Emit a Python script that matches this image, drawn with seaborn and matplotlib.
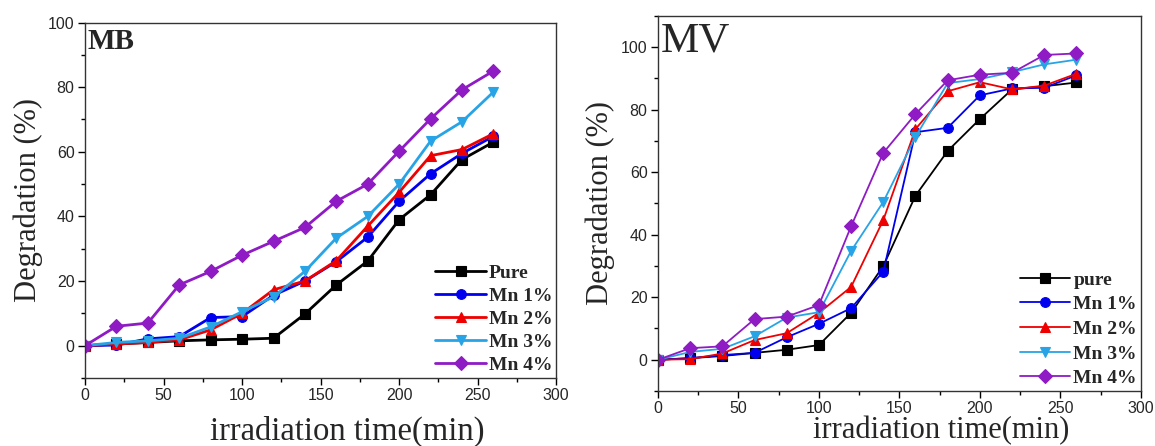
import numpy as np
import pandas as pd
import matplotlib
matplotlib.use("Agg")
import matplotlib.pyplot as plt
import seaborn as sns

sns.set_theme(style="ticks")
plt.rcParams['font.family'] = ['Liberation Sans', 'DejaVu Sans']

# tiempos de irradiacion (min)
tiempo = [0, 20, 40, 60, 80, 100, 120, 140, 160, 180, 200, 220, 240, 260]

# Degradacion MB (%)
mb_pure = [0, 0.5, 1.0, 1.5, 1.8, 2.0, 2.3, 9.8, 18.8, 26.2, 39.0, 46.7, 57.6, 63.0]
mb_mn1 = [0, 0.2, 2.1, 2.8, 8.7, 9.0, 15.6, 20.0, 26.0, 33.6, 44.7, 53.2, 59.5, 64.8]
mb_mn2 = [0, 0.5, 1.0, 1.8, 4.9, 10.0, 17.3, 20.0, 26.3, 37.0, 47.5, 58.8, 60.7, 65.6]
mb_mn3 = [0, 1.0, 1.5, 2.3, 5.8, 10.5, 15.1, 23.0, 33.3, 40.0, 50.0, 63.3, 69.3, 78.5]
mb_mn4 = [0, 6.0, 7.0, 18.8, 23.0, 28.0, 32.3, 36.6, 44.7, 50.0, 60.2, 70.2, 79.2, 85.0]

# Degradacion MV (%)
mv_pure = [0, 0.5, 1.2, 2.2, 3.2, 4.7, 15.0, 30.0, 52.5, 66.8, 77.0, 86.5, 87.5, 88.7]
mv_mn1 = [0, 0.5, 1.5, 2.2, 7.2, 11.5, 16.5, 28.2, 72.8, 74.2, 84.6, 86.8, 87.0, 91.0]
mv_mn2 = [0, 0.2, 2.0, 6.3, 8.5, 15.0, 23.3, 44.7, 73.8, 85.9, 88.8, 86.5, 87.7, 91.5]
mv_mn3 = [0, 2.5, 3.5, 7.5, 13.5, 15.2, 34.8, 50.5, 71.3, 88.5, 89.8, 92.0, 94.5, 96.0]
mv_mn4 = [0, 3.7, 4.3, 13.0, 13.8, 17.5, 42.7, 66.2, 78.6, 89.4, 91.2, 91.8, 97.5, 98.0]

etiquetas_mb = ['Pure', 'Mn 1%', 'Mn 2%', 'Mn 3%', 'Mn 4%']
etiquetas_mv = ['pure', 'Mn 1%', 'Mn 2%', 'Mn 3%', 'Mn 4%']

colores = ['#000000', '#0000EE', '#EE0000', '#28A4E6', '#8E1BC4']
marcadores = ['s', 'o', '^', 'v', 'D']


def tabla_larga(series, etiquetas):
    filas = []
    for nombre, valores in zip(etiquetas, series):
        for t, v in zip(tiempo, valores):
            filas.append({'tiempo': t, 'degradacion': v, 'muestra': nombre})
    return pd.DataFrame(filas)


def dibujar_panel(ax, df, etiquetas, lw, ms, ylim, titulo, titulo_kw, espacio, tam_x):
    sns.lineplot(data=df, x='tiempo', y='degradacion', hue='muestra', style='muestra',
                 hue_order=etiquetas, style_order=etiquetas,
                 palette=dict(zip(etiquetas, colores)),
                 markers=dict(zip(etiquetas, marcadores)), dashes=False,
                 linewidth=lw, markersize=ms, ax=ax)
    for linea in ax.lines:
        linea.set_markeredgecolor(linea.get_color())
        linea.set_markeredgewidth(0.8)

    ax.set_xlim(0, 300)
    ax.set_ylim(*ylim)
    ax.set_xticks([0, 50, 100, 150, 200, 250, 300])
    ax.set_xticks(np.arange(25, 300, 50), minor=True)
    ax.tick_params(which='both', direction='out', top=False, right=False,
                   labelsize=11.5, width=1.0, color='black', pad=2.5)
    ax.tick_params(which='major', length=5)
    ax.tick_params(which='minor', length=3)
    for lado in ax.spines.values():
        lado.set_color('#333333')
        lado.set_linewidth(1.0)

    ax.set_xlabel('irradiation time(min)', family=['Liberation Serif'], fontsize=tam_x)
    ax.set_ylabel('Degradation (%)', family=['Liberation Serif'], fontsize=22)

    ax.text(0.005, 0.985, titulo, transform=ax.transAxes, ha='left', va='top',
            family=['Liberation Serif'], **titulo_kw)

    handles, labels = ax.get_legend_handles_labels()
    for h in handles:
        h.set_markeredgecolor(h.get_color())
    ax.legend(handles, labels, loc='lower right', frameon=False,
              prop={'family': 'Liberation Serif', 'weight': 'bold', 'size': 14},
              handlelength=2.6, handletextpad=0.15, labelspacing=espacio,
              borderaxespad=0.05, borderpad=0.15)


fig = plt.figure(figsize=(11.55, 4.46), dpi=100)
ax1 = fig.add_axes([0.0736, 0.1525, 0.408, 0.797])
ax2 = fig.add_axes([0.5697, 0.1233, 0.418, 0.841])

df_mb = tabla_larga([mb_pure, mb_mn1, mb_mn2, mb_mn3, mb_mn4], etiquetas_mb)
df_mv = tabla_larga([mv_pure, mv_mn1, mv_mn2, mv_mn3, mv_mn4], etiquetas_mv)

dibujar_panel(ax1, df_mb, etiquetas_mb, 2.0, 7, (-10, 100), 'MB',
              {'fontsize': 21, 'fontweight': 'bold'}, 0.28, 23.5)
dibujar_panel(ax2, df_mv, etiquetas_mv, 1.3, 7, (-10, 110), 'MV',
              {'fontsize': 31}, 0.36, 22)

ax1.set_yticks([0, 20, 40, 60, 80, 100])
ax1.set_yticks(np.arange(-10, 100, 20), minor=True)
ax2.set_yticks([0, 20, 40, 60, 80, 100])
ax2.set_yticks(np.arange(-10, 111, 20), minor=True)

ax1.xaxis.set_label_coords(0.556, -0.149)
ax1.xaxis.label.set_va('center')
ax1.yaxis.set_label_coords(-0.09, 0.5)
ax2.xaxis.set_label_coords(0.587, -0.105)
ax2.xaxis.label.set_va('center')
ax2.yaxis.set_label_coords(-0.09, 0.5)

fig.savefig('out.png', dpi=100)
